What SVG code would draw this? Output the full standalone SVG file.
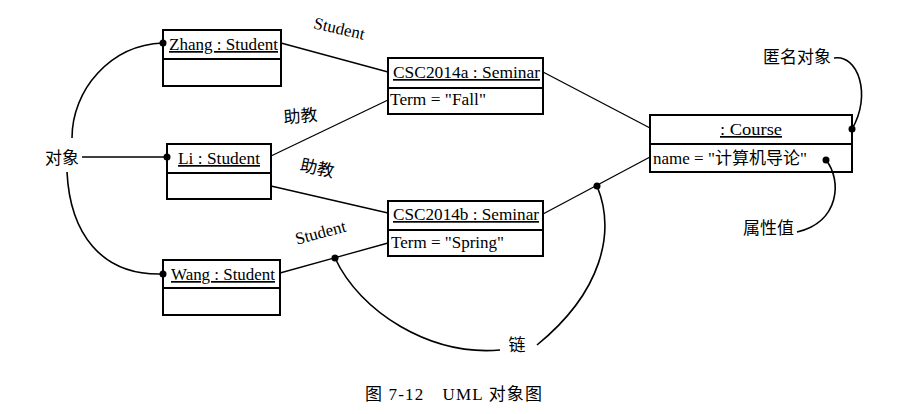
<svg xmlns="http://www.w3.org/2000/svg" width="901" height="414" viewBox="0 0 901 414">
<style>
.box{fill:#fff;stroke:#000;stroke-width:2}
.t{font-family:"Liberation Serif","Noto Sans CJK SC",serif;font-size:17px;fill:#000}
.cn{font-family:"Liberation Serif","Noto Sans CJK SC",serif;font-size:17px;fill:#000}
.u{text-decoration:underline}
.c{text-anchor:middle}
.ln{fill:none;stroke:#000;stroke-width:1.3}
.cv{fill:none;stroke:#000;stroke-width:1.6}
.dot{fill:#000}
</style>
<rect width="901" height="414" fill="#fff"/>
<g id="connectors">
<line class="ln" x1="281" y1="43" x2="388" y2="72"/>
<line class="ln" x1="271" y1="156" x2="388" y2="100"/>
<line class="ln" x1="271" y1="186" x2="388" y2="213"/>
<line class="ln" x1="280" y1="273" x2="388" y2="243"/>
<line class="ln" x1="543" y1="72" x2="650" y2="128"/>
<line class="ln" x1="543" y1="214" x2="650" y2="157"/>
<text class="t" transform="translate(338,34) rotate(13)" text-anchor="middle">Student</text>
<text class="cn" transform="translate(301,122) rotate(-5)" text-anchor="middle">助教</text>
<text class="cn" transform="translate(316,174) rotate(12)" text-anchor="middle">助教</text>
<text class="t" transform="translate(322,238) rotate(-15)" text-anchor="middle">Student</text>
</g>
<g id="zhang">
<rect class="box" x="163" y="30" width="118" height="56"/>
<line class="box" x1="163" y1="59" x2="281" y2="59"/>
<text class="t u" x="169" y="50" textLength="109" lengthAdjust="spacingAndGlyphs">Zhang : Student</text>
</g>
<g id="li">
<rect class="box" x="167" y="144" width="104" height="55"/>
<line class="box" x1="167" y1="173" x2="271" y2="173"/>
<text class="t u" x="178" y="164" textLength="82" lengthAdjust="spacingAndGlyphs">Li : Student</text>
</g>
<g id="wang">
<rect class="box" x="163" y="260" width="117" height="55"/>
<line class="box" x1="163" y1="288" x2="280" y2="288"/>
<text class="t u" x="171" y="280" textLength="104" lengthAdjust="spacingAndGlyphs">Wang : Student</text>
</g>
<g id="csc2014a">
<rect class="box" x="388" y="58" width="155" height="56"/>
<line class="box" x1="388" y1="88" x2="543" y2="88"/>
<text class="t u" x="393" y="78" textLength="147" lengthAdjust="spacingAndGlyphs">CSC2014a : Seminar</text>
<text class="t" x="390" y="105" textLength="96" lengthAdjust="spacingAndGlyphs">Term = "Fall"</text>
</g>
<g id="csc2014b">
<rect class="box" x="388" y="201" width="155" height="55"/>
<line class="box" x1="388" y1="230" x2="543" y2="230"/>
<text class="t u" x="393" y="220" textLength="146" lengthAdjust="spacingAndGlyphs">CSC2014b : Seminar</text>
<text class="t" x="391" y="248" textLength="113" lengthAdjust="spacingAndGlyphs">Term = "Spring"</text>
</g>
<g id="course">
<rect class="box" x="650" y="115" width="202" height="57"/>
<line class="box" x1="650" y1="144" x2="852" y2="144"/>
<text class="t u" x="720" y="135" textLength="62" lengthAdjust="spacingAndGlyphs">: Course</text>
<text class="t" x="653" y="164" textLength="154" lengthAdjust="spacingAndGlyphs">name = "计算机导论"</text>
</g>
<g id="callout-objects">
<text class="cn c" x="62" y="164">对象</text>
<path class="cv" d="M72,138 C72,90 110,45 163,43"/>
<line class="cv" x1="82" y1="157" x2="167" y2="157"/>
<path class="cv" d="M67,172 C70,232 100,276 163,274"/>
<circle class="dot" cx="163" cy="43" r="3.5"/>
<circle class="dot" cx="167" cy="157" r="3.5"/>
<circle class="dot" cx="163" cy="274" r="3.5"/>
</g>
<g id="callout-anonymous">
<text class="cn" x="763" y="63">匿名对象</text>
<path class="cv" d="M834,58 C858,54 872,95 852,129"/>
<circle class="dot" cx="852" cy="129" r="3.5"/>
</g>
<g id="callout-attr">
<text class="cn" x="743" y="234">属性值</text>
<path class="cv" d="M826,160 C842,180 840,222 797,232"/>
<circle class="dot" cx="826" cy="160" r="3.5"/>
</g>
<g id="callout-link">
<text class="cn c" x="517" y="351">链</text>
<path class="cv" d="M335,258 C360,312 430,356 500,350"/>
<path class="cv" d="M597,186 C616,232 602,292 537,345"/>
<circle class="dot" cx="335" cy="258" r="3.5"/>
<circle class="dot" cx="597" cy="186" r="3.5"/>
</g>
<text class="cn" x="365" y="400" textLength="177" lengthAdjust="spacing">图 7-12　UML 对象图</text>
</svg>
